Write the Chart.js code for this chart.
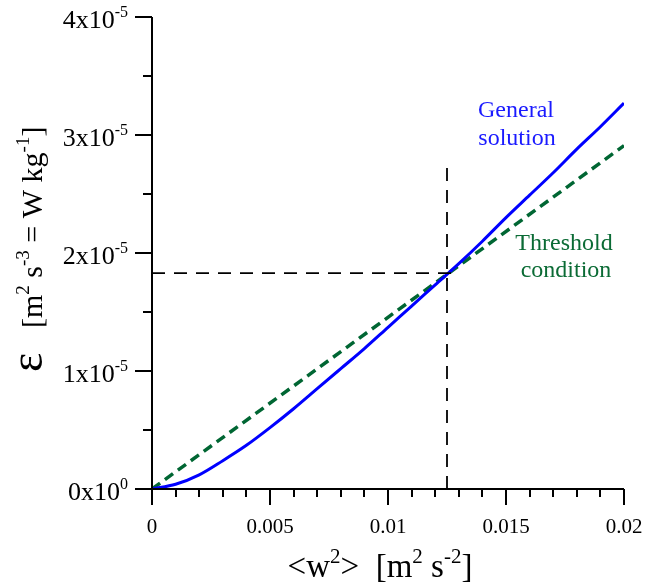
<!DOCTYPE html>
<html>
<head>
<meta charset="utf-8">
<script src="https://cdn.jsdelivr.net/npm/chart.js@4/dist/chart.umd.min.js"></script>
<style>
  html, body { margin: 0; padding: 0; background: #fff; }
  #wrap { width: 668px; height: 587px; }
</style>
</head>
<body>
<div id="wrap"><canvas id="chart" width="668" height="587"></canvas></div>
<script>
// <w^2> values (m^2 s^-2)
const wSquared = [0, 0.001, 0.002, 0.003, 0.004, 0.005, 0.006, 0.007, 0.008, 0.009, 0.010,
                  0.011, 0.012, 0.013, 0.014, 0.015, 0.016, 0.017, 0.018, 0.019, 0.020];
// general solution, epsilon (W/kg)
const epsGeneral = [0, 0.04e-5, 0.12e-5, 0.24e-5, 0.37e-5, 0.52e-5, 0.68e-5, 0.85e-5, 1.02e-5, 1.19e-5, 1.37e-5,
                    1.55e-5, 1.73e-5, 1.91e-5, 2.10e-5, 2.30e-5, 2.49e-5, 2.68e-5, 2.88e-5, 3.07e-5, 3.27e-5];
// threshold condition (straight line)
const wThreshold = [0, 0.02];
const epsThreshold = [0, 2.91e-5];
// crossing point guides
const guideVertW = [0.0125, 0.0125];
const guideVertEps = [0, 2.72e-5];
const guideHorizW = [0, 0.0128];
const guideHorizEps = [1.83e-5, 1.83e-5];

const xTicks = [0, 0.005, 0.01, 0.015, 0.02];
const xTickLabels = ['0', '0.005', '0.01', '0.015', '0.02'];
const xMinorStep = 0.001;
const yTicks = [0, 1e-5, 2e-5, 3e-5, 4e-5];
const yTickMant = ['0', '1', '2', '3', '4'];
const yTickExp = ['0', '-5', '-5', '-5', '-5'];
const yMinorTicks = [0.5e-5, 1.5e-5, 2.5e-5, 3.5e-5];

const SERIF = '"Liberation Serif", "Times New Roman", serif';

function pts(xs, ys) {
    return xs.map((x, i) => ({ x: x, y: ys[i] }));
}

// draw text made of normal/superscript parts
function richWidth(ctx, parts, size, supSize) {
    let w = 0;
    parts.forEach(p => {
        ctx.font = (p.sup ? supSize : (p.size || size)) + 'px ' + SERIF;
        w += ctx.measureText(p.t).width;
    });
    return w;
}
function drawRich(ctx, parts, x, y, size, supSize, align) {
    const total = richWidth(ctx, parts, size, supSize);
    let cx = align === 'right' ? x - total : align === 'center' ? x - total / 2 : x;
    ctx.textAlign = 'left';
    ctx.textBaseline = 'alphabetic';
    parts.forEach(p => {
        ctx.font = (p.sup ? supSize : (p.size || size)) + 'px ' + SERIF;
        ctx.fillText(p.t, cx, p.sup ? y - size * 0.42 : y);
        cx += ctx.measureText(p.t).width;
    });
}

const axesPlugin = {
    id: 'axesPlugin',
    afterDatasetsDraw(chart) {
        const ctx = chart.ctx;
        const xs = chart.scales.x, ys = chart.scales.y;
        const a = chart.chartArea;
        ctx.save();
        ctx.strokeStyle = '#000';
        ctx.fillStyle = '#000';
        ctx.lineWidth = 2;
        // axis lines
        ctx.beginPath();
        ctx.moveTo(a.left, a.top);
        ctx.lineTo(a.left, a.bottom);
        ctx.lineTo(a.right, a.bottom);
        ctx.stroke();
        // x ticks
        ctx.beginPath();
        for (let i = 0; i <= 20; i++) {
            const v = i * xMinorStep;
            const px = Math.round(xs.getPixelForValue(v));
            const len = i % 5 === 0 ? 16 : 8;
            ctx.moveTo(px, a.bottom);
            ctx.lineTo(px, a.bottom + len);
        }
        // y ticks
        yTicks.forEach(v => {
            const py = Math.round(ys.getPixelForValue(v));
            ctx.moveTo(a.left, py);
            ctx.lineTo(a.left - 17, py);
        });
        yMinorTicks.forEach(v => {
            const py = Math.round(ys.getPixelForValue(v));
            ctx.moveTo(a.left, py);
            ctx.lineTo(a.left - 9, py);
        });
        ctx.stroke();

        // x tick labels
        ctx.font = '21px ' + SERIF;
        ctx.textAlign = 'center';
        ctx.textBaseline = 'alphabetic';
        xTicks.forEach((v, i) => {
            ctx.fillText(xTickLabels[i], xs.getPixelForValue(v), 533);
        });
        // y tick labels
        yTicks.forEach((v, i) => {
            const py = ys.getPixelForValue(v);
            drawRich(ctx, [{ t: yTickMant[i] + 'x10' }, { t: yTickExp[i], sup: true }],
                     a.left - 24, py + 11, 26, 16, 'right');
        });

        // x title
        drawRich(ctx, [{ t: '<w' }, { t: '2', sup: true }, { t: '>  [m' }, { t: '2', sup: true },
                       { t: ' s' }, { t: '-2', sup: true }, { t: ']' }],
                 380, 577, 33, 21, 'center');

        // y title (rotated): epsilon, then the units in brackets
        ctx.save();
        ctx.translate(42, 372);
        ctx.rotate(-Math.PI / 2);
        drawRich(ctx, [{ t: '\u03B5' }], 0, 0, 46, 20, 'left');
        ctx.restore();
        ctx.translate(42, 328);
        ctx.rotate(-Math.PI / 2);
        drawRich(ctx, [{ t: '[m' }, { t: '2', sup: true }, { t: ' s' },
                       { t: '-3', sup: true }, { t: ' = W kg' }, { t: '-1', sup: true }, { t: ']' }],
                 0, 0, 30, 19, 'left');
        ctx.restore();

        // annotations
        ctx.save();
        ctx.font = '24px ' + SERIF;
        ctx.textAlign = 'center';
        ctx.textBaseline = 'alphabetic';
        ctx.fillStyle = '#1a1aff';
        ctx.fillText('General', 516, 117);
        ctx.fillText('solution', 517, 145);
        ctx.fillStyle = '#0b6b35';
        ctx.fillText('Threshold', 564, 250);
        ctx.fillText('condition', 566, 277);
        ctx.restore();
    }
};

new Chart(document.getElementById('chart').getContext('2d'), {
    type: 'scatter',
    data: {
        datasets: [
            {
                label: 'guide vertical',
                data: pts(guideVertW, guideVertEps),
                showLine: true, borderColor: '#000', borderWidth: 1.8,
                borderDash: [13, 9], pointRadius: 0
            },
            {
                label: 'guide horizontal',
                data: pts(guideHorizW, guideHorizEps),
                showLine: true, borderColor: '#000', borderWidth: 1.8,
                borderDash: [13, 9], pointRadius: 0
            },
            {
                label: 'General solution',
                data: pts(wSquared, epsGeneral),
                showLine: true, borderColor: '#0000ff', borderWidth: 3,
                pointRadius: 0, cubicInterpolationMode: 'monotone'
            },
            {
                label: 'Threshold condition',
                data: pts(wThreshold, epsThreshold),
                showLine: true, borderColor: '#006633', borderWidth: 3.5,
                borderDash: [10, 6], pointRadius: 0
            }
        ]
    },
    options: {
        responsive: false,
        animation: false,
        layout: { padding: { left: 152, top: 17, right: 44, bottom: 98 } },
        plugins: { legend: { display: false }, tooltip: { enabled: false } },
        scales: {
            x: { type: 'linear', min: 0, max: 0.02, display: false },
            y: { type: 'linear', min: 0, max: 4e-5, display: false }
        }
    },
    plugins: [axesPlugin]
});
</script>
</body>
</html>
